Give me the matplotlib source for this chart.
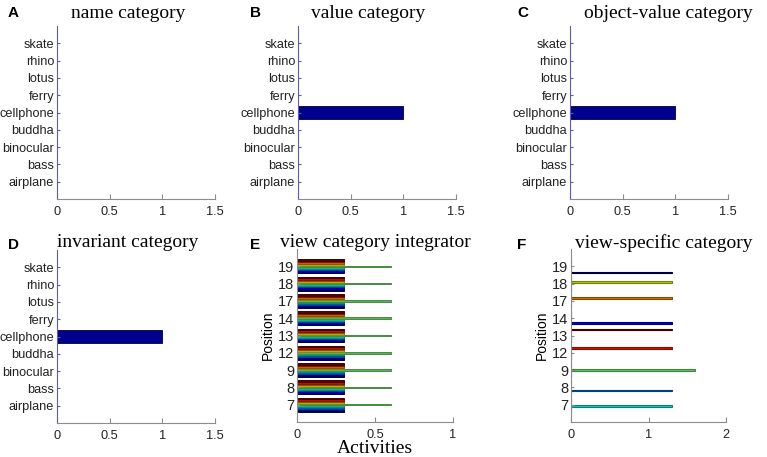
import matplotlib
matplotlib.use("Agg")
import matplotlib.pyplot as plt
import numpy as np

# ---------------- data ----------------
categories = ['airplane', 'bass', 'binocular', 'buddha', 'cellphone',
              'ferry', 'lotus', 'rhino', 'skate']
name_vals = [0, 0, 0, 0, 0, 0, 0, 0, 0]
value_vals = [0, 0, 0, 0, 1, 0, 0, 0, 0]
objval_vals = [0, 0, 0, 0, 1, 0, 0, 0, 0]
invariant_vals = [0, 0, 0, 0, 1, 0, 0, 0, 0]

positions = ['7', '8', '9', '12', '13', '14', '17', '18', '19']
# view category integrator: rows = positions (bottom->top), cols = 9 views
integrator = [
    [0.3, 0.3, 0.3, 0.3, 0.6, 0.3, 0.3, 0.3, 0.3],
    [0.3, 0.3, 0.3, 0.3, 0.6, 0.3, 0.3, 0.3, 0.3],
    [0.3, 0.3, 0.3, 0.3, 0.6, 0.3, 0.3, 0.3, 0.3],
    [0.3, 0.3, 0.3, 0.3, 0.6, 0.3, 0.3, 0.3, 0.3],
    [0.3, 0.3, 0.3, 0.3, 0.6, 0.3, 0.3, 0.3, 0.3],
    [0.3, 0.3, 0.3, 0.3, 0.6, 0.3, 0.3, 0.3, 0.3],
    [0.3, 0.3, 0.3, 0.3, 0.6, 0.3, 0.3, 0.3, 0.3],
    [0.3, 0.3, 0.3, 0.3, 0.6, 0.3, 0.3, 0.3, 0.3],
    [0.3, 0.3, 0.3, 0.3, 0.6, 0.3, 0.3, 0.3, 0.3],
]
# view-specific category: rows = positions (bottom->top), cols = 9 views
view_specific = [
    [0, 0, 0, 1.3, 0, 0, 0, 0, 0],
    [0, 0, 1.3, 0, 0, 0, 0, 0, 0],
    [0, 0, 0, 0, 1.6, 0, 0, 0, 0],
    [0, 0, 0, 0, 0, 0, 0, 1.3, 0],
    [0, 0, 0, 0, 0, 0, 0, 0, 1.3],
    [0, 1.3, 0, 0, 0, 0, 0, 0, 0],
    [0, 0, 0, 0, 0, 0, 1.3, 0, 0],
    [0, 0, 0, 0, 0, 1.3, 0, 0, 0],
    [1.3, 0, 0, 0, 0, 0, 0, 0, 0],
]

titles = ['name category', 'value category', 'object-value category',
          'invariant category', 'view category integrator', 'view-specific category']
letters = ['A', 'B', 'C', 'D', 'E', 'F']

# ---------------- figure ----------------
W, H = 767, 457
fig = plt.figure(figsize=(W / 100, H / 100), dpi=100)

def px_axes(left, top, right, bottom):
    return fig.add_axes([left / W, 1 - bottom / H, (right - left) / W, (bottom - top) / H])

serif = 'Liberation Serif'
sans = 'Liberation Sans'
spine_gray = '#8c8c8c'
bar_blue = '#00008f'

def style(ax, xticks, xlabels, left_color):
    for s in ['top', 'right']:
        ax.spines[s].set_visible(False)
    ax.spines['bottom'].set_color(spine_gray)
    ax.spines['left'].set_color(left_color)
    ax.tick_params(axis='both', direction='in', labelsize=9.2, colors='#222222',
                   labelfontfamily=sans)
    ax.tick_params(axis='y', length=2.5, pad=2, color=left_color)
    ax.tick_params(axis='x', length=3.5, pad=5, color=spine_gray)
    ax.set_xticks(xticks)
    ax.set_xticklabels(xlabels)
    ax.set_ylim(0, 10)

cat_boxes = [(57, 26, 215, 199), (298, 26, 456, 199), (570, 26, 728, 199),
             (57, 250, 215, 423)]
cat_data = [name_vals, value_vals, objval_vals, invariant_vals]
title_cx = [128, 368, 668, 128]
title_y = [13, 13, 13, 243]
letter_pos = [(8, 13), (250, 13), (517, 13), (8, 245)]

yk = np.arange(1, 10)
for i in range(4):
    ax = px_axes(*cat_boxes[i])
    vals = cat_data[i]
    ax.barh(yk, vals, height=0.8, color=bar_blue, edgecolor='#000040', linewidth=0.6)
    ax.set_xlim(0, 1.5)
    style(ax, [0, 0.5, 1, 1.5], ['0', '0.5', '1', '1.5'], '#5c5ca8')
    ax.set_yticks(yk)
    ax.set_yticklabels(categories)

for i in range(4):
    fig.text(title_cx[i] / W, 1 - title_y[i] / H, titles[i], family=serif,
             fontsize=14, ha='center', va='center')
    fig.text(letter_pos[i][0] / W, 1 - letter_pos[i][1] / H, letters[i],
             family=sans, fontsize=11, fontweight='bold', ha='left', va='center')

cmap = plt.get_cmap('jet')
nser = 9
bw = 0.8 / nser
view_colors = [cmap(k / (nser - 1)) for k in range(nser)]

def grouped(ax, mat, lw, face_k, edge_k):
    m = np.array(mat)
    for j in range(nser):
        c = np.array(view_colors[j])[:3]
        ax.barh(yk + (j - (nser - 1) / 2) * bw, m[:, j], height=bw,
                color=tuple(c * face_k), edgecolor=tuple(c * edge_k), linewidth=lw)

# E
axE = px_axes(297, 249, 453, 422)
grouped(axE, integrator, 0.7, 0.7, 0.55)
axE.set_xlim(0, 1)
style(axE, [0, 0.5, 1], ['0', '0.5', '1'], spine_gray)
axE.set_yticks(yk)
axE.set_yticklabels(positions, fontsize=10.5)
axE.set_ylabel('Position', family=sans, fontsize=10, labelpad=2)
axE.set_xlabel('Activities', family=serif, fontsize=14, labelpad=-1)

# F
axF = px_axes(571, 249, 726, 422)
grouped(axF, view_specific, 0.8, 0.8, 0.5)
axF.set_xlim(0, 2)
style(axF, [0, 1, 2], ['0', '1', '2'], spine_gray)
axF.set_yticks(yk)
axF.set_yticklabels(positions, fontsize=10.5)
axF.set_ylabel('Position', family=sans, fontsize=10, labelpad=2)

for i, (cx, lp) in enumerate([(375, (250, 245)), (664, (517, 245))]):
    fig.text(cx / W, 1 - 243 / H, titles[4 + i], family=serif, fontsize=14,
             ha='center', va='center')
    fig.text(lp[0] / W, 1 - lp[1] / H, letters[4 + i], family=sans, fontsize=11,
             fontweight='bold', ha='left', va='center')

fig.savefig('out.png', dpi=100)
